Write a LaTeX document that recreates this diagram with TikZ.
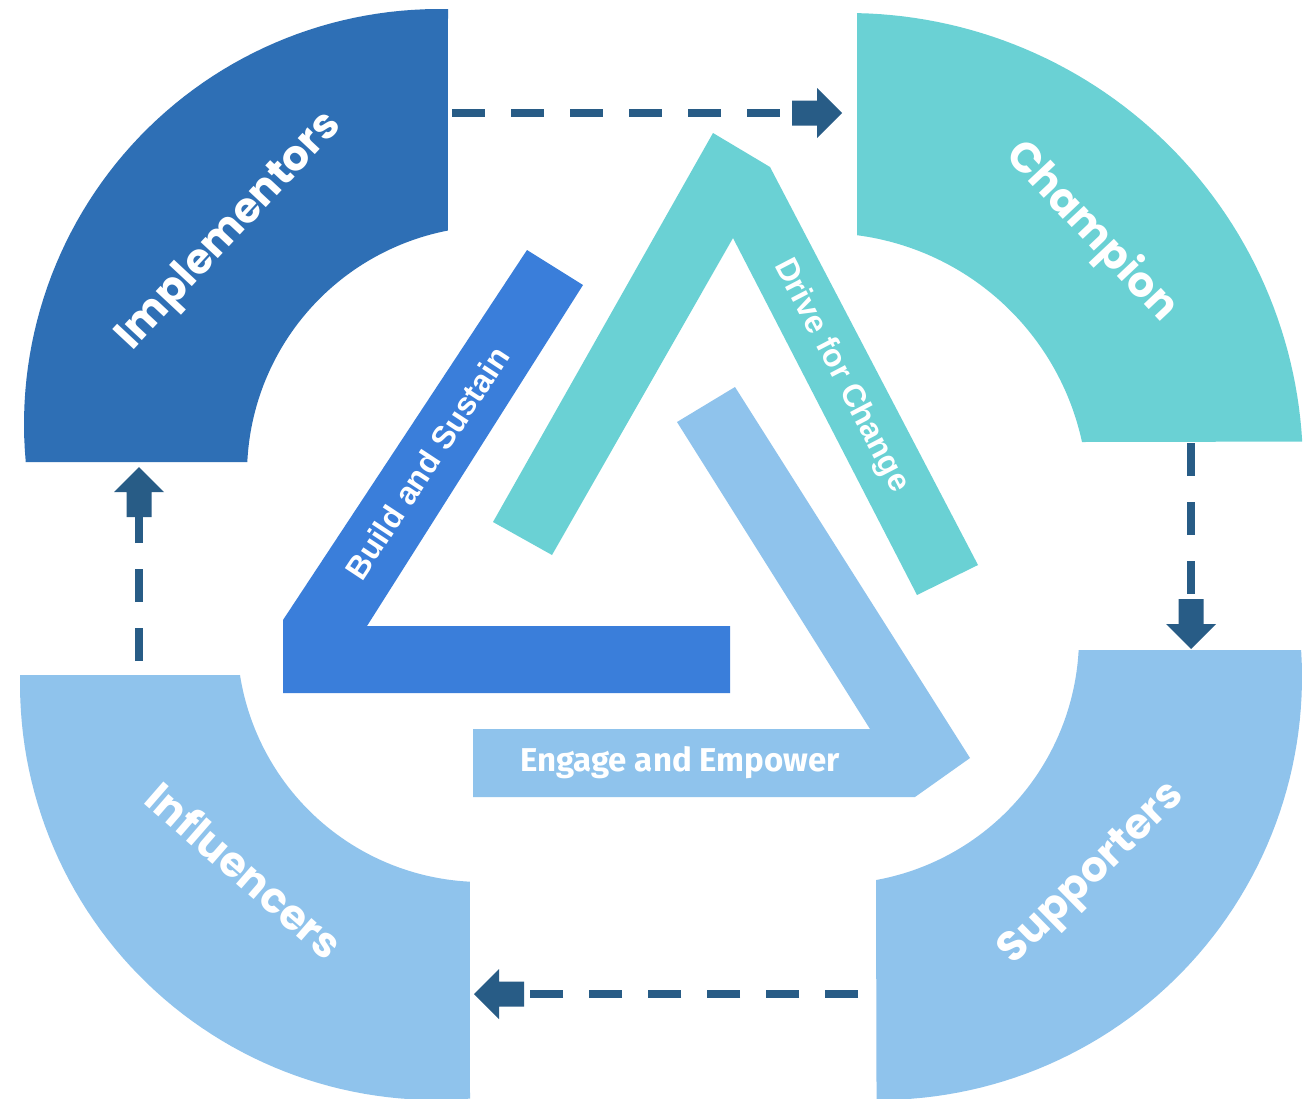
\documentclass[tikz,border=0pt]{standalone}
\usepackage{fontspec}
\setmainfont{Poppins}
\newfontfamily\ringfont{Poppins}
\newfontfamily\barfont{Liberation Sans}
\newfontfamily\basefont{Fira Sans}

\definecolor{implcol}{HTML}{2E6FB5}
\definecolor{chmpcol}{HTML}{6AD1D4}
\definecolor{lightcol}{HTML}{8FC3EC}
\definecolor{buildcol}{HTML}{3A7EDA}
\definecolor{arrowcol}{HTML}{285C86}

\tikzset{
  ringlabel/.style={text=white, font=\ringfont\bfseries\fontsize{42}{46}\selectfont, inner sep=0pt},
  barlabel/.style={text=white, font=\barfont\bfseries\fontsize{32}{36}\selectfont, inner sep=0pt},
  baselabel/.style={text=white, font=\basefont\bfseries\fontsize{33}{37}\selectfont, inner sep=0pt},
  flow/.style={draw=arrowcol, line width=7.5pt, dash pattern=on 33pt off 26pt, shorten >=50pt},
  blockhead/.pic={
    \fill[arrowcol] (0,0) -- (-25,-25) -- (-25,-12.5) -- (-50,-12.5)
      -- (-50,12.5) -- (-25,12.5) -- (-25,25) -- cycle;
  }
}

\begin{document}
\begin{tikzpicture}[x=1pt, y=-1pt]
  % canvas
  \fill[white] (0,0) rectangle (1304,1098);
  \useasboundingbox (0,0) rectangle (1304,1098);

  % ---- four ring segments ----
  % Implementors (top left)
  \fill[implcol] (25.7,462) -- (247.3,462)
    -- plot[domain=0:1, samples=60] ({495+248*cos(182.77+76.33*\x)}, {474+248*sin(182.77+76.33*\x)})
    -- (448,9.1)
    -- plot[domain=0:1, samples=60] ({439+415*cos(271.24-96.49*\x)}, {424+415*sin(271.24-96.49*\x)})
    -- cycle;
  % Champion (top right)
  \fill[chmpcol] (857,13.1)
    -- plot[domain=0:1, samples=60] ({848+455*cos(271.13+85.6*\x)}, {468+455*sin(271.13+85.6*\x)})
    -- (1082,442)
    -- plot[domain=0:1, samples=60] ({823+265*cos(347.8-70.43*\x)}, {498+265*sin(347.8-70.43*\x)})
    -- cycle;
  % Influencers (bottom left)
  \fill[lightcol] (20.1,675) -- (240,675)
    -- plot[domain=0:1, samples=60] ({482+245*cos(171.08-78.28*\x)}, {637+245*sin(171.08-78.28*\x)})
    -- (470,1098.6)
    -- plot[domain=0:1, samples=60] ({436+416*cos(85.3+95.94*\x)}, {684+416*sin(85.3+95.94*\x)})
    -- cycle;
  % Supporters (bottom right)
  \fill[lightcol] (1078.7,650) -- (1301.1,650)
    -- plot[domain=0:1, samples=60] ({879+423*cos(-3.66+94.06*\x)}, {677+423*sin(-3.66+94.06*\x)})
    -- (876,880)
    -- plot[domain=0:1, samples=60] ({832+247*cos(79.74-76.72*\x)}, {637+247*sin(79.74-76.72*\x)})
    -- cycle;

  % ---- inner triangle of bent bars ----
  \fill[buildcol] (527,250) -- (583,285) -- (367,626) -- (730,626)
    -- (730,693) -- (283,693) -- (283,620) -- cycle;
  \fill[chmpcol] (713,133) -- (770,167) -- (978,565) -- (917,595)
    -- (733,238) -- (552,555) -- (493,522) -- cycle;
  \fill[lightcol] (677,422) -- (735,387) -- (970,758) -- (915,797)
    -- (473,797) -- (473,729) -- (870,729) -- cycle;

  % ---- labels ----
  \node[ringlabel, rotate=47]    (impl) at (230,232)  {Implementors};
  \node[ringlabel, rotate=-46.7] (chmp) at (1091,232) {Champion};
  \node[ringlabel, rotate=-41]   (infl) at (245,870)  {Influencers};
  \node[ringlabel, rotate=44.5]  (supp) at (1093,875) {Supporters};

  \node[barlabel, rotate=56.6]  (build) at (427,463) {Build and Sustain};
  \node[barlabel, rotate=-62.5] (drive) at (841,376) {Drive for Change};
  \node[baselabel]              (engage) at (680,763) {Engage and Empower};

  % ---- cycle connectors ----
  \coordinate (implOut) at (452,113);  \coordinate (chmpIn) at (842,113);
  \coordinate (chmpOut) at (1191,443); \coordinate (suppIn) at (1191,649);
  \coordinate (suppOut) at (858,994);  \coordinate (inflIn) at (474,994);
  \coordinate (inflOut) at (139,661);  \coordinate (implIn) at (139,467);

  \draw[flow] (implOut) -- (chmpIn);
  \draw[flow] (chmpOut) -- (suppIn);
  \draw[flow] (suppOut) -- (inflIn);
  \draw[flow] (inflOut) -- (implIn);

  \pic[rotate=0]   at (chmpIn) {blockhead};
  \pic[rotate=-90] at (suppIn) {blockhead};
  \pic[rotate=180] at (inflIn) {blockhead};
  \pic[rotate=90]  at (implIn) {blockhead};
\end{tikzpicture}
\end{document}
